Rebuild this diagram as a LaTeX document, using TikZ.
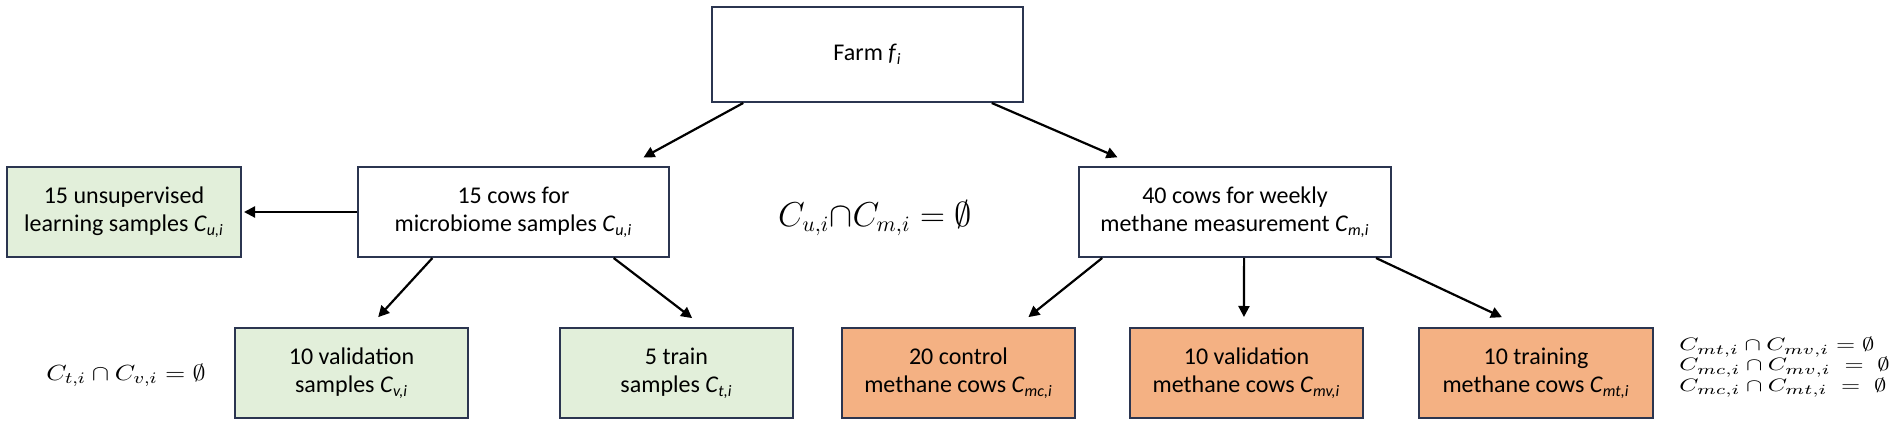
\documentclass[tikz,border=0pt]{standalone}
\usepackage{fontspec}
\setmainfont{Carlito}
\usepackage{graphicx}
\usetikzlibrary{arrows.meta,calc}
\definecolor{boxline}{HTML}{2B3550}
\definecolor{greenfill}{HTML}{E2EFDA}
\definecolor{orangefill}{HTML}{F4B183}
\newcommand{\Csub}[1]{\textit{C}\textsubscript{\textit{#1}}}
\begin{document}
\begin{tikzpicture}[x=0.5pt,y=-0.5pt,
  box/.style={draw=boxline,line width=1pt,inner sep=0pt,align=center,
    font=\fontsize{12}{14}\selectfont},
  wbox/.style={box,fill=white},
  gbox/.style={box,fill=greenfill},
  obox/.style={box,fill=orangefill},
  arr/.style={line width=1.1pt,-{Triangle[length=5.5pt,width=5.5pt]}}]
\fill[white] (0,0) rectangle (1901,427);
\useasboundingbox (0,0) rectangle (1901,427);

\node[wbox,minimum width=155.5pt,minimum height=47.5pt] (farm) at (867.5,54.5) {Farm \textit{f}\textsubscript{\textit{i}}};
\node[gbox,minimum width=117pt,minimum height=45pt] (unsup) at (124,212) {15 unsupervised\\learning samples \Csub{u,i}};
\node[wbox,minimum width=155.5pt,minimum height=45pt] (cowsa) at (513.5,212) {15 cows for\\microbiome samples \Csub{u,i}};
\node[wbox,minimum width=156pt,minimum height=45pt] (cowsb) at (1235,212) {40 cows for weekly\\methane measurement \Csub{m,i}};

\node[gbox,minimum width=116.5pt,minimum height=45pt] (val) at (351.5,373) {10 validation\\samples \Csub{v,i}};
\node[gbox,minimum width=116.5pt,minimum height=45pt] (train) at (676.5,373) {5 train\\samples \Csub{t,i}};
\node[obox,minimum width=116.5pt,minimum height=45pt] (ctrl) at (958.5,373) {20 control\\methane cows \Csub{mc,i}};
\node[obox,minimum width=116.5pt,minimum height=45pt] (mval) at (1246.5,373) {10 validation\\methane cows \Csub{mv,i}};
\node[obox,minimum width=117pt,minimum height=45pt] (mtrain) at (1536,373) {10 training\\methane cows \Csub{mt,i}};

\node[inner sep=0pt,font=\fontsize{16}{19}\selectfont] (equm) at (875,218) {$C_{u,i}{\cap}C_{m,i}=\emptyset$};
\node[inner sep=0pt,font=\fontsize{11}{13}\selectfont] (eqtv) at (126,375) {\scalebox{1.19}[1]{$C_{t,i}\cap C_{v,i}=\emptyset$}};
\node[inner sep=0pt,anchor=east,font=\fontsize{9.5}{10}\selectfont] (eqm) at (1890,367) {\scalebox{1.33}[1]{\begin{tabular}{@{}l@{}}
$C_{mt,i}\cap C_{mv,i}=\emptyset$\\
$C_{mc,i}\cap C_{mv,i}\;=\;\emptyset$\\
$C_{mc,i}\cap C_{mt,i}\;=\;\emptyset$\end{tabular}}};

\draw[arr,shorten >=9pt] ($(farm.south west)!0.103!(farm.south east)$) -- ($(cowsa.north west)!0.865!(cowsa.north east)$);
\draw[arr,shorten >=11pt] ($(farm.south west)!0.897!(farm.south east)$) -- ($(cowsb.north west)!0.19!(cowsb.north east)$);
\draw[arr,shorten >=1pt] (cowsa.west) -- (unsup.east);
\draw[arr,shorten >=6.7pt] ($(cowsa.south west)!0.241!(cowsa.south east)$) -- ($(val.north west)!0.575!(val.north east)$);
\draw[arr,shorten >=7.3pt] ($(cowsa.south west)!0.82!(cowsa.south east)$) -- ($(train.north west)!0.616!(train.north east)$);
\draw[arr,shorten >=7.9pt] ($(cowsb.south west)!0.077!(cowsb.south east)$) -- ($(ctrl.north west)!0.745!(ctrl.north east)$);
\draw[arr,shorten >=5pt] ($(cowsb.south west)!0.529!(cowsb.south east)$) -- ($(mval.north west)!0.489!(mval.north east)$);
\draw[arr,shorten >=11.5pt] ($(cowsb.south west)!0.949!(cowsb.south east)$) -- ($(mtrain.north west)!0.444!(mtrain.north east)$);
\end{tikzpicture}
\end{document}
